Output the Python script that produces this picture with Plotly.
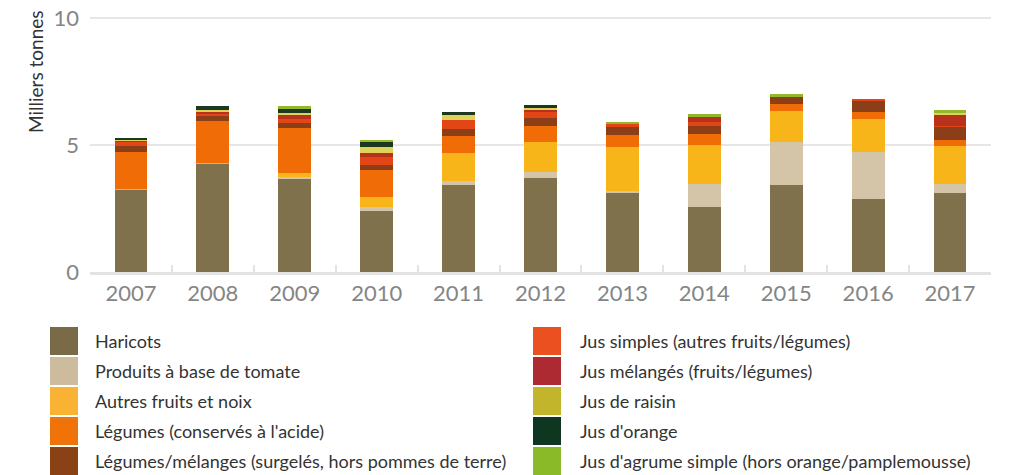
import plotly.graph_objects as go

years = ["2007", "2008", "2009", "2010", "2011", "2012", "2013", "2014", "2015", "2016", "2017"]

series_names = [
    "Haricots",
    "Produits à base de tomate",
    "Autres fruits et noix",
    "Légumes (conservés à l'acide)",
    "Légumes/mélanges (surgelés, hors pommes de terre)",
    "Jus simples (autres fruits/légumes)",
    "Jus mélangés (fruits/légumes)",
    "Jus de raisin",
    "Jus d'orange",
    "Jus d'agrume simple (hors orange/pamplemousse)",
]

haricots = [3.24, 4.27, 3.69, 2.42, 3.44, 3.71, 3.14, 2.54, 3.44, 2.89, 3.13]
tomate = [0.00, 0.00, 0.07, 0.12, 0.16, 0.24, 0.03, 0.94, 1.69, 1.84, 0.35]
autres_fruits = [0.04, 0.04, 0.15, 0.43, 1.09, 1.18, 1.76, 1.52, 1.21, 1.29, 1.49]
legumes_acide = [1.45, 1.64, 1.76, 1.06, 0.67, 0.62, 0.47, 0.44, 0.28, 0.28, 0.23]
legumes_surgeles = [0.24, 0.20, 0.20, 0.19, 0.28, 0.31, 0.31, 0.31, 0.27, 0.47, 0.51]
jus_simples = [0.17, 0.09, 0.17, 0.32, 0.35, 0.24, 0.12, 0.16, 0.00, 0.04, 0.04]
jus_melanges = [0.05, 0.06, 0.18, 0.15, 0.00, 0.08, 0.00, 0.20, 0.00, 0.00, 0.43]
jus_raisin = [0.03, 0.08, 0.05, 0.24, 0.19, 0.08, 0.00, 0.00, 0.00, 0.00, 0.08]
jus_orange = [0.06, 0.16, 0.15, 0.20, 0.12, 0.12, 0.00, 0.00, 0.00, 0.00, 0.00]
jus_agrume = [0.00, 0.00, 0.12, 0.04, 0.00, 0.00, 0.04, 0.11, 0.11, 0.00, 0.12]

series_values = [haricots, tomate, autres_fruits, legumes_acide, legumes_surgeles,
                 jus_simples, jus_melanges, jus_raisin, jus_orange, jus_agrume]

bar_colors = ["#7f714b", "#d4c4a8", "#f7b519", "#ef6c07", "#8c3e18",
              "#e34616", "#b6321a", "#e0d15a", "#1c3920", "#93b82a"]
legend_colors = ["#7a6b48", "#cdbb9d", "#f9b233", "#ef7309", "#8b4116",
                 "#ea5020", "#ad2a33", "#c2b52b", "#0e3620", "#8aba27"]

W, H = 1017, 475
ML, MR, MT, MB = 90, 26, 17, 203
PW = W - ML - MR
PH = H - MT - MB

def px_to_paper_x(px):
    return (px - ML) / PW

def px_to_paper_y(py):
    return (H - MB - py) / PH

fig = go.Figure()
for name, vals, col in zip(series_names, series_values, bar_colors):
    fig.add_trace(go.Bar(x=years, y=vals, name=name, marker=dict(color=col, line=dict(width=0)),
                         showlegend=False))

# manual two-column legend
shapes = []
annotations = []
sw = 28
for i, (name, col) in enumerate(zip(series_names, legend_colors)):
    colidx = i // 5
    row = i % 5
    x0 = 50 if colidx == 0 else 533
    tx = 93 if colidx == 0 else 578
    yc = 341 + row * 30
    shapes.append(dict(type="rect", xref="paper", yref="paper",
                       x0=px_to_paper_x(x0), x1=px_to_paper_x(x0 + sw),
                       y0=px_to_paper_y(yc + sw / 2), y1=px_to_paper_y(yc - sw / 2),
                       fillcolor=col, line=dict(width=0)))
    annotations.append(dict(text=name, xref="paper", yref="paper",
                            x=px_to_paper_x(tx), y=px_to_paper_y(yc),
                            xanchor="left", yanchor="middle", showarrow=False,
                            font=dict(family="Lato", size=18, color="#333333")))

annotations.append(dict(text="Milliers tonnes", xref="paper", yref="paper",
                        x=px_to_paper_x(35), y=px_to_paper_y(72), textangle=-90,
                        xanchor="center", yanchor="middle", showarrow=False,
                        font=dict(family="Lato", size=19, color="#333333")))

fig.update_layout(
    width=W, height=H, autosize=False,
    margin=dict(l=ML, r=MR, t=MT, b=MB, autoexpand=False),
    barmode="stack", bargap=0.6,
    plot_bgcolor="white", paper_bgcolor="white",
    shapes=shapes, annotations=annotations,
    font=dict(family="Lato"),
)
fig.update_xaxes(
    type="category", showline=True, linecolor="#e3e3e3", linewidth=3,
    ticks="inside", tickson="boundaries", ticklen=7, tickwidth=2, tickcolor="#e3e3e3",
    showgrid=False, tickfont=dict(family="Lato", size=22, color="#858585"),
    ticklabelstandoff=0, automargin=False,
)
fig.update_yaxes(
    range=[0, 10.04], tickvals=[0, 5, 10], showgrid=True, gridcolor="#e6e6e6", gridwidth=2,
    zeroline=False, showline=False, tickfont=dict(family="Lato", size=22, color="#858585"),
    ticklabelstandoff=10, automargin=False,
)

fig.write_html("out.html", config={"displayModeBar": False},
               post_script="document.body.style.margin='0';")
